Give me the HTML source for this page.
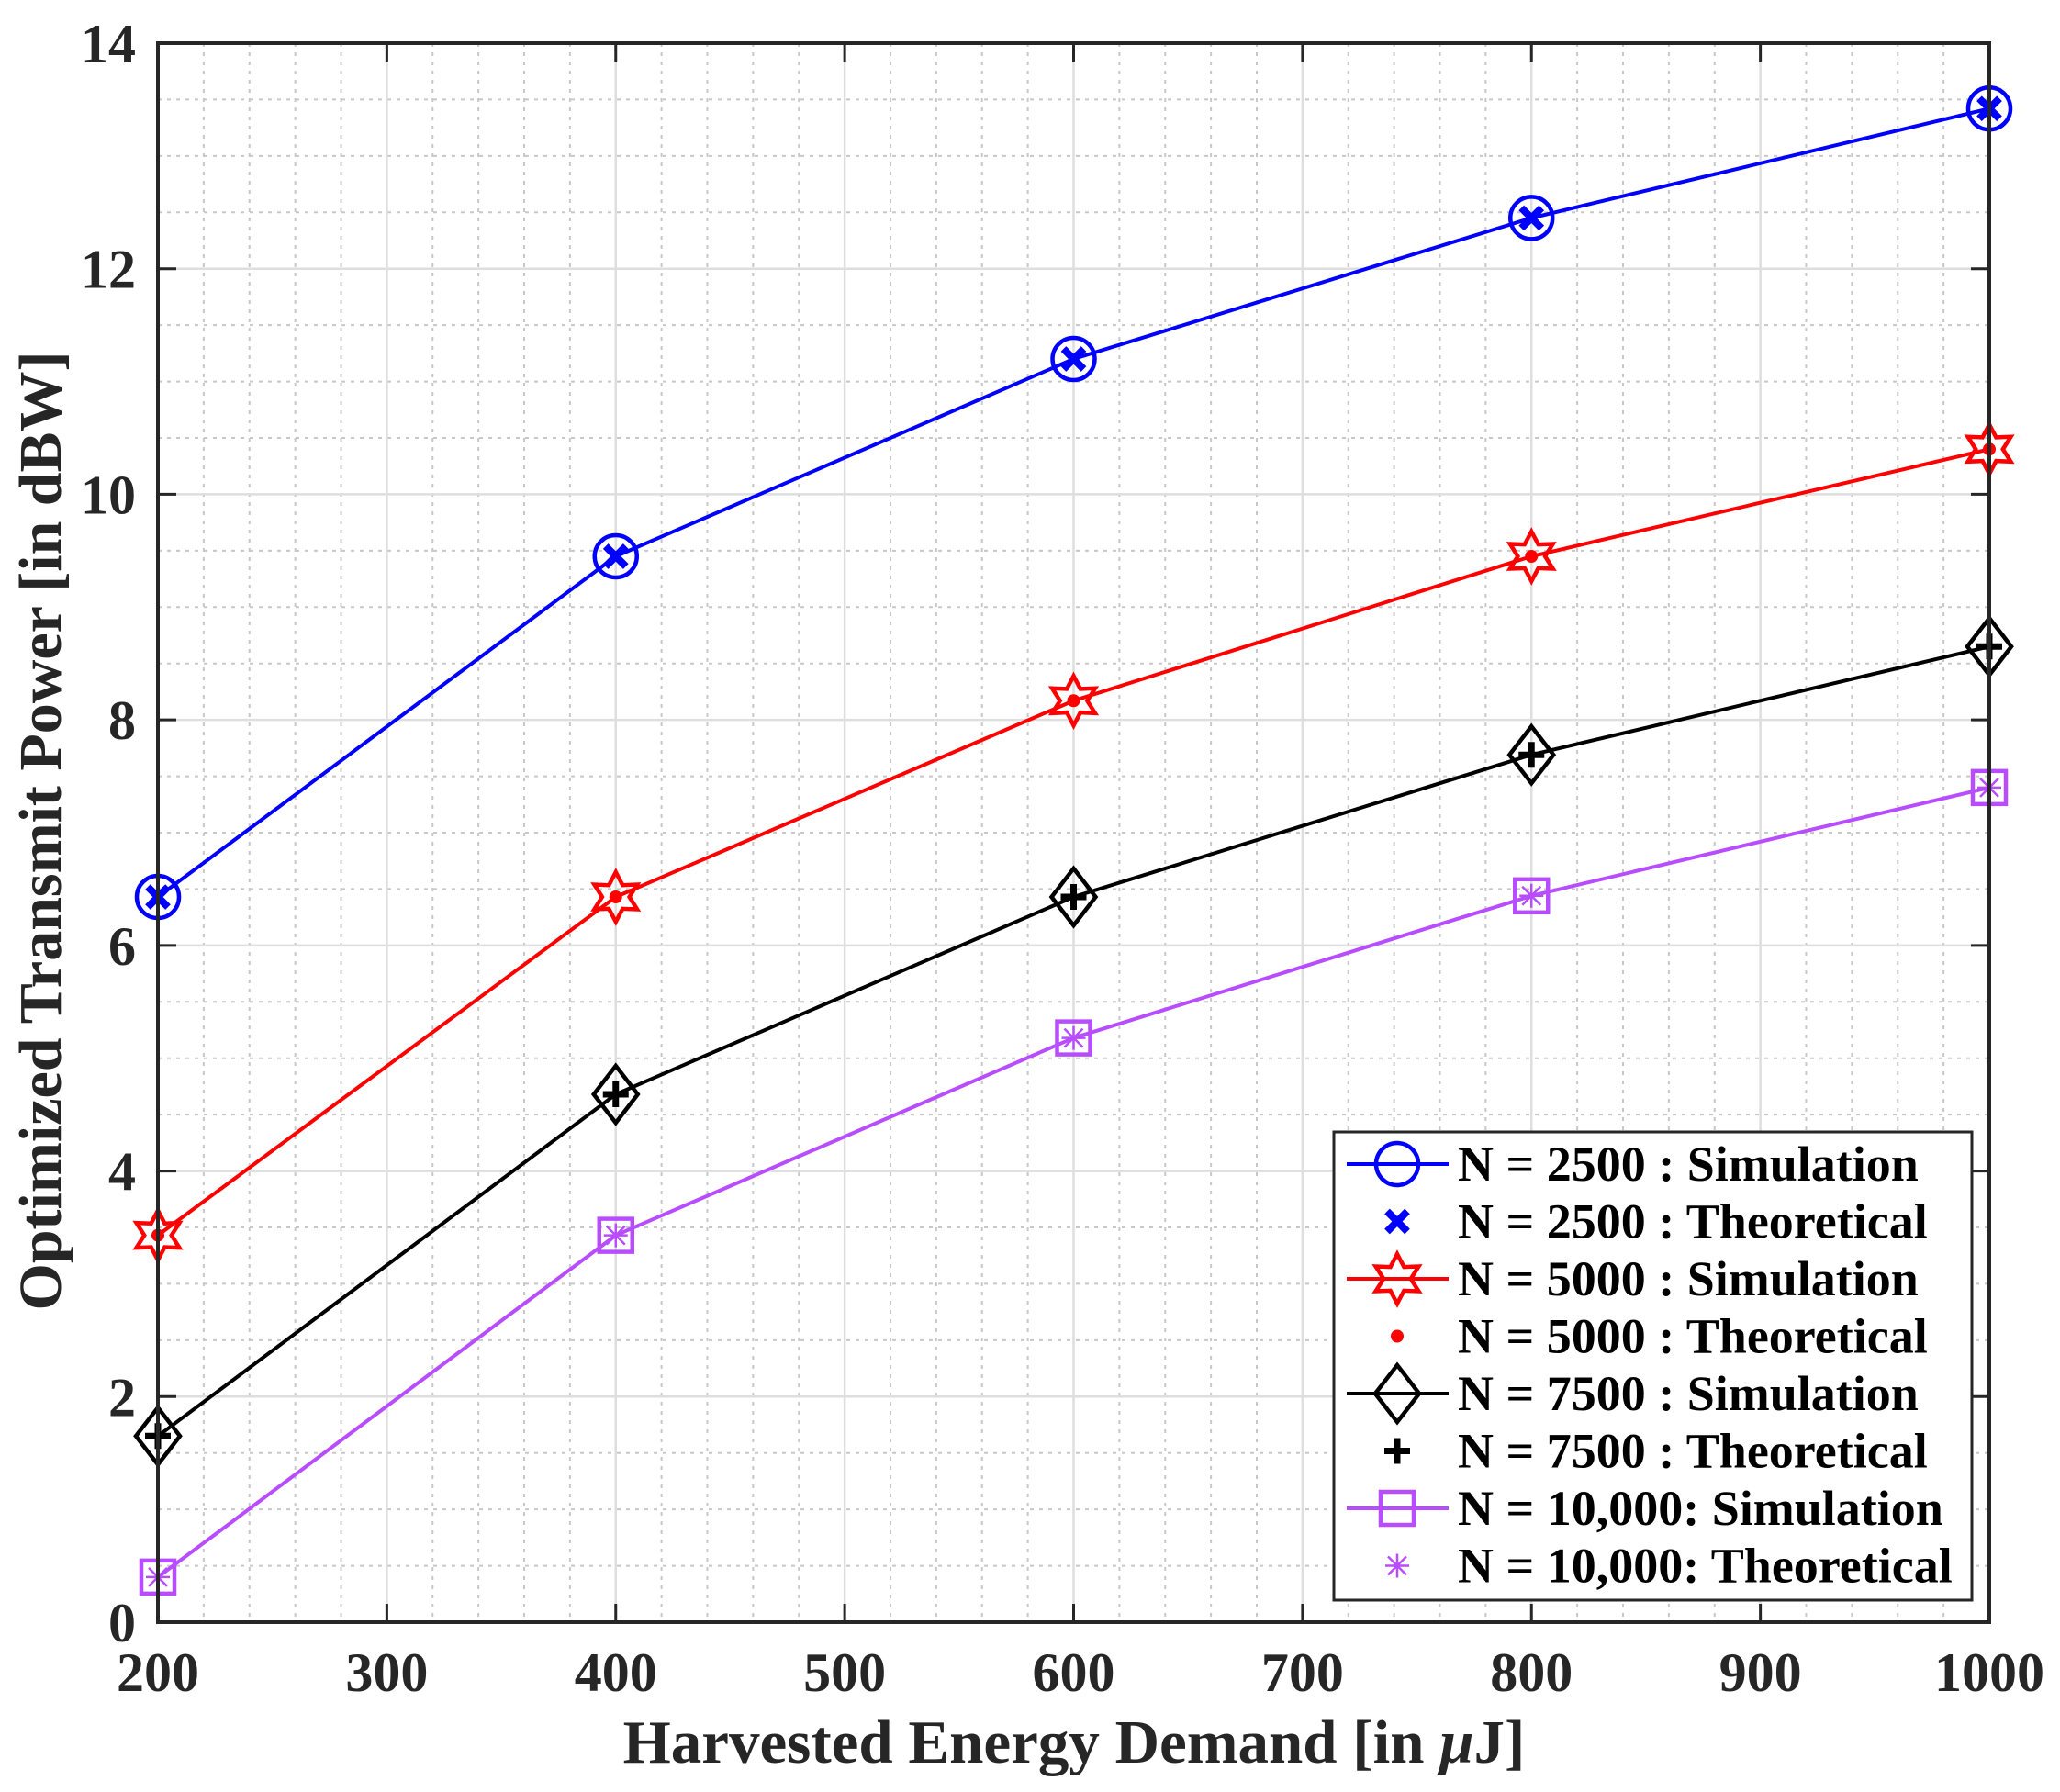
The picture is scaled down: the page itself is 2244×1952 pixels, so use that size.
<!DOCTYPE html>
<html><head><meta charset="utf-8"><style>
html,body{margin:0;padding:0;background:#fff}
svg{display:block}
text{font-family:"Liberation Serif",serif;font-weight:bold;fill:#262626}
</style></head><body>
<svg id="chart" xmlns="http://www.w3.org/2000/svg" width="2244" height="1952" viewBox="0 0 2244 1952">
<rect x="0" y="0" width="2244" height="1952" fill="#fff"/>
<g id="grid"></g>
<g id="series"></g>
<rect x="172" y="47" width="1995" height="1720" fill="none" stroke="#262626" stroke-width="4"/>
<g id="ticks"></g>
<text x="1170" y="1920" text-anchor="middle" font-size="67">Harvested Energy Demand [in <tspan font-style="italic">μ</tspan>J]</text>
<text transform="translate(66,905) rotate(-90)" text-anchor="middle" font-size="66">Optimized Transmit Power [in dBW]</text>
<g id="legend"></g>
</svg>
<script>
const xCategories = [200, 400, 600, 800, 1000];
const seriesN2500 = [6.43, 9.45, 11.2, 12.45, 13.42];
const seriesN5000 = [3.43, 6.43, 8.17, 9.45, 10.4];
const seriesN7500 = [1.65, 4.68, 6.43, 7.69, 8.65];
const seriesN10000 = [0.4, 3.43, 5.18, 6.44, 7.4];
const xTicks = [200, 300, 400, 500, 600, 700, 800, 900, 1000];
const yTicks = [0, 2, 4, 6, 8, 10, 12, 14];
const legendLabels = ["N = 2500 : Simulation","N = 2500 : Theoretical","N = 5000 : Simulation","N = 5000 : Theoretical","N = 7500 : Simulation","N = 7500 : Theoretical","N = 10,000: Simulation","N = 10,000: Theoretical"];

const NS="http://www.w3.org/2000/svg";
const L=172,R=2167,T=47,B=1767;
const xs=v=>L+(v-200)/800*(R-L);
const ys=v=>B-v/14*(B-T);
function mk(tag,attrs,parent){const e=document.createElementNS(NS,tag);for(const k in attrs)e.setAttribute(k,attrs[k]);parent.appendChild(e);return e;}
const grid=document.getElementById('grid'),ser=document.getElementById('series'),tk=document.getElementById('ticks'),lg=document.getElementById('legend');
for(let v=200;v<=1000;v+=20){if(v%100===0)continue;const l=mk('line',{x1:xs(v),x2:xs(v),y1:T,y2:B,stroke:'#c8c8c8','stroke-width':2,'stroke-dasharray':'4 6'},grid);

}
for(let v=0.5;v<14;v+=0.5){if(v%2===0)continue;const l=mk('line',{x1:L,x2:R,y1:ys(v),y2:ys(v),stroke:'#c8c8c8','stroke-width':2,'stroke-dasharray':'4 6'},grid);

}
xTicks.forEach(v=>{const l=mk('line',{x1:xs(v),x2:xs(v),y1:T,y2:B,stroke:'#dedede','stroke-width':2.5},grid);


const t=mk('line',{x1:xs(v),x2:xs(v),y1:B,y2:B-20,stroke:'#262626','stroke-width':3},tk);


const t2=mk('line',{x1:xs(v),x2:xs(v),y1:T,y2:T+20,stroke:'#262626','stroke-width':3},tk);


const tx=mk('text',{x:xs(v),y:1842,'text-anchor':'middle','font-size':60},tk);tx.textContent=v;

});
yTicks.forEach(v=>{const l=mk('line',{x1:L,x2:R,y1:ys(v),y2:ys(v),stroke:'#dedede','stroke-width':2.5},grid);


const t=mk('line',{x1:L,x2:L+20,y1:ys(v),y2:ys(v),stroke:'#262626','stroke-width':3},tk);


const t2=mk('line',{x1:R,x2:R-20,y1:ys(v),y2:ys(v),stroke:'#262626','stroke-width':3},tk);


const tx=mk('text',{x:148,y:ys(v)+21,'text-anchor':'end','font-size':60},tk);tx.textContent=v;

});

function hexagram(cx,cy,r){const p=[];for(let i=0;i<12;i++){const a=-Math.PI/2+i*Math.PI/6;const rr=i%2?r*0.55:r;p.push((cx+rr*Math.cos(a)).toFixed(1)+','+(cy+rr*Math.sin(a)).toFixed(1));}return p.join(' ');}
function simMarker(kind,cx,cy,c,g){let e;
if(kind==='circle')e=mk('circle',{cx,cy,r:23,fill:'none',stroke:c,'stroke-width':4.5},g);
else if(kind==='hex')e=mk('polygon',{points:hexagram(cx,cy,27),fill:'none',stroke:c,'stroke-width':4.5},g);
else if(kind==='diamond')e=mk('polygon',{points:`${cx},${cy-31} ${cx+24},${cy} ${cx},${cy+31} ${cx-24},${cy}`,fill:'none',stroke:c,'stroke-width':4.5},g);
else e=mk('rect',{x:cx-18,y:cy-18,width:36,height:36,fill:'none',stroke:c,'stroke-width':4.5},g);
return e;}
function thMarker(kind,cx,cy,c,g){let e=mk('g',{},g);
if(kind==='x'){mk('path',{d:`M${cx-11},${cy-11}L${cx+11},${cy+11}M${cx+11},${cy-11}L${cx-11},${cy+11}`,stroke:c,'stroke-width':8},e);}
else if(kind==='dot'){mk('circle',{cx,cy,r:7,fill:c},e);}
else if(kind==='plus'){mk('path',{d:`M${cx-14},${cy}H${cx+14}M${cx},${cy-14}V${cy+14}`,stroke:c,'stroke-width':7},e);}
else{mk('path',{d:`M${cx-13},${cy}H${cx+13}M${cx},${cy-13}V${cy+13}M${cx-10},${cy-10}L${cx+10},${cy+10}M${cx+10},${cy-10}L${cx-10},${cy+10}`,stroke:c,'stroke-width':2.5},e);}
return e;}
const defs=[
 {data:seriesN2500,color:'#0000ff',sim:'circle',th:'x',name:'n2500'},
 {data:seriesN5000,color:'#ff0000',sim:'hex',th:'dot',name:'n5000'},
 {data:seriesN7500,color:'#000000',sim:'diamond',th:'plus',name:'n7500'},
 {data:seriesN10000,color:'#b84dff',sim:'square',th:'star',name:'n10000'}];
defs.forEach(d=>{const g=mk('g',{},ser);


const pts=d.data.map((v,i)=>xs(xCategories[i]).toFixed(1)+','+ys(v).toFixed(1)).join(' ');
const pl=mk('polyline',{points:pts,fill:'none',stroke:d.color,'stroke-width':4},g);


d.data.forEach((v,i)=>{const cx=xs(xCategories[i]),cy=ys(v);
const m=simMarker(d.sim,cx,cy,d.color,g);


const t=thMarker(d.th,cx,cy,d.color,g);

});});

const box=mk('rect',{x:1453,y:1233,width:695,height:510,fill:'#fff',stroke:'#262626','stroke-width':3},lg);


legendLabels.forEach((lab,i)=>{const d=defs[Math.floor(i/2)];const cy=1268+i*62.5;const g=mk('g',{},lg);


if(i%2===0){mk('line',{x1:1467,x2:1578,y1:cy,y2:cy,stroke:d.color,'stroke-width':4},g);simMarker(d.sim,1522,cy,d.color,g);}
else thMarker(d.th,1522,cy,d.color,g);
const t=mk('text',{x:1588,y:cy+18,'font-size':54,fill:'#000'},g);t.textContent=lab;t.style.fill='#000';});
</script>
</body></html>
